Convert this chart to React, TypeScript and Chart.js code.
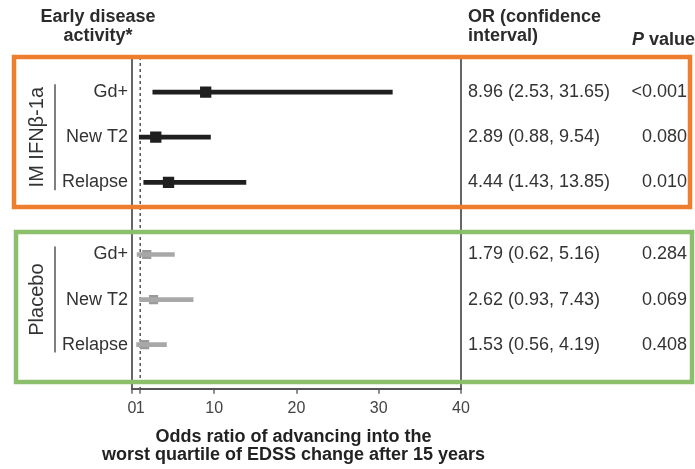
import React, { useEffect, useRef } from 'react';
import { Chart, registerables } from 'chart.js';

Chart.register(...registerables);

// ---- data ----
const groups = ['IM IFNβ-1a', 'Placebo'];
const categories = ['Gd+', 'New T2', 'Relapse'];
const imOR = [8.96, 2.89, 4.44];
const imLow = [2.53, 0.88, 1.43];
const imHigh = [31.65, 9.54, 13.85];
const imP = ['<0.001', '0.080', '0.010'];
const plOR = [1.79, 2.62, 1.53];
const plLow = [0.62, 0.93, 0.56];
const plHigh = [5.16, 7.43, 4.19];
const plP = ['0.284', '0.069', '0.408'];
const xTicks = [0, 1, 10, 20, 30, 40];
const axisTitle = ['Odds ratio of advancing into the', 'worst quartile of EDSS change after 15 years'];
const headerLeft = ['Early disease', 'activity*'];
const headerOR = ['OR (confidence', 'interval)'];

// ---- layout (row slots on the y scale) ----
const imRows = [0, 1, 2];
const plRows = [3.6, 4.6, 5.6];

const FONT = '"Liberation Sans", Arial, Helvetica, sans-serif';
const fmt = (o: number, l: number, h: number) => `${o.toFixed(2)} (${l.toFixed(2)}, ${h.toFixed(2)})`;

const decor = {
  id: 'forestDecor',
  beforeDatasetsDraw(chart: any) {
    const { ctx, chartArea, scales } = chart;
    const x = scales.x;
    ctx.save();
    ctx.strokeStyle = '#555';
    ctx.lineWidth = 1.5;
    ctx.setLineDash([3, 3]);
    const px = x.getPixelForValue(1);
    ctx.beginPath();
    ctx.moveTo(px, chartArea.top);
    ctx.lineTo(px, chartArea.bottom);
    ctx.stroke();
    ctx.restore();
  },
  afterDraw(chart: any) {
    const { ctx, scales, chartArea } = chart;
    const y = scales.y;
    ctx.save();
    ctx.fillStyle = '#2b2b2b';
    ctx.textBaseline = 'middle';
    // headers
    ctx.font = `bold 18px ${FONT}`;
    ctx.textAlign = 'center';
    headerLeft.forEach((t, i) => ctx.fillText(t, 98, 17 + i * 19));
    ctx.textAlign = 'left';
    headerOR.forEach((t, i) => ctx.fillText(t, 468, 17 + i * 19));
    ctx.font = `italic bold 18px ${FONT}`;
    ctx.fillText('P', 632, 40);
    const pw = ctx.measureText('P').width;
    ctx.font = `bold 18px ${FONT}`;
    ctx.fillText(' value', 632 + pw, 40);

    // x-axis title (wider than the axis, drawn centred under it)
    const cx = (chartArea.left + chartArea.right) / 2 - 3;
    ctx.textAlign = 'center';
    ctx.fillStyle = '#222';
    axisTitle.forEach((t, i) => ctx.fillText(t, cx, 437 + i * 18.5));

    // rows
    const drawGroup = (rows: number[], or: number[], lo: number[], hi: number[], p: string[], name: string) => {
      ctx.fillStyle = '#333';
      ctx.font = `18px ${FONT}`;
      rows.forEach((r, i) => {
        const py = y.getPixelForValue(r);
        ctx.textAlign = 'right';
        ctx.fillText(categories[i], 128, py);
        ctx.textAlign = 'left';
        ctx.fillText(fmt(or[i], lo[i], hi[i]), 468, py);
        ctx.textAlign = 'right';
        ctx.fillText(p[i], 687, py);
      });
      const c = (y.getPixelForValue(rows[0]) + y.getPixelForValue(rows[rows.length - 1])) / 2;
      ctx.strokeStyle = '#555';
      ctx.lineWidth = 1.5;
      ctx.beginPath();
      ctx.moveTo(55, c - 53);
      ctx.lineTo(55, c + 53);
      ctx.stroke();
      ctx.save();
      ctx.translate(37, c);
      ctx.rotate(-Math.PI / 2);
      ctx.textAlign = 'center';
      ctx.font = `20px ${FONT}`;
      ctx.fillText(name, 0, 0);
      ctx.restore();
    };
    drawGroup(imRows, imOR, imLow, imHigh, imP, groups[0]);
    drawGroup(plRows, plOR, plLow, plHigh, plP, groups[1]);

    // highlight boxes
    ctx.lineWidth = 4.5;
    ctx.strokeStyle = '#EE7D2E';
    ctx.strokeRect(14, 57, 676, 150);
    ctx.strokeStyle = '#8CBF6B';
    ctx.strokeRect(16, 232, 676, 150);
    ctx.restore();
  },
};

export default function App() {
  const ref = useRef<HTMLCanvasElement | null>(null);
  useEffect(() => {
    document.body.style.margin = '0';
    if (!ref.current) return;
    const chart = new Chart(ref.current, {
      type: 'bar',
      data: {
        datasets: [
          {
            type: 'bar',
            indexAxis: 'y',
            grouped: false,
            data: imRows.map((r, i) => ({ x: [imLow[i], imHigh[i]], y: r })),
            backgroundColor: '#1f1f1f',
            barThickness: 4,
            borderWidth: 0,
            borderSkipped: false,
          } as any,
          {
            type: 'bar',
            indexAxis: 'y',
            grouped: false,
            data: plRows.map((r, i) => ({ x: [plLow[i], plHigh[i]], y: r })),
            backgroundColor: '#a8a8a8',
            barThickness: 4,
            borderWidth: 0,
            borderSkipped: false,
          } as any,
          {
            type: 'scatter',
            data: imRows.map((r, i) => ({ x: imOR[i], y: r })),
            pointStyle: 'rect',
            pointRadius: 8,
            backgroundColor: '#1f1f1f',
            borderWidth: 0,
          } as any,
          {
            type: 'scatter',
            data: plRows.map((r, i) => ({ x: plOR[i], y: r })),
            pointStyle: 'rect',
            pointRadius: 6.5,
            backgroundColor: '#9a9a9a',
            borderWidth: 0,
          } as any,
        ],
      },
      options: {
        animation: false,
        responsive: false,
        events: [],
        layout: { padding: { left: 132, right: 234, top: 57, bottom: 46 } },
        plugins: { legend: { display: false }, tooltip: { enabled: false } },
        scales: {
          x: {
            type: 'linear',
            min: 0,
            max: 40,
            offset: false,
            afterBuildTicks: (s: any) => {
              s.ticks = xTicks.map((v) => ({ value: v }));
            },
            ticks: {
              autoSkip: false,
              maxRotation: 0,
              padding: 5,
              color: '#444',
              font: { family: FONT, size: 16, lineHeight: 1.2 },
              callback: (v: any) => String(v),
            },
            grid: {
              offset: false,
              drawOnChartArea: true,
              color: (c: any) => (c.tick && (c.tick.value === 0 || c.tick.value === 40) ? '#666' : 'rgba(0,0,0,0)'),
              lineWidth: 2,
              tickLength: 5,
              tickColor: '#666',
              tickWidth: 1.5,
            },
            border: { display: true, color: '#555', width: 2 },
            title: { display: false },
          },
          y: {
            type: 'linear',
            reverse: true,
            offset: false,
            min: -0.778,
            max: 6.578,
            display: false,
          },
        },
      } as any,
      plugins: [decor],
    });
    return () => chart.destroy();
  }, []);
  return <canvas ref={ref} width={695} height={469} style={{ position: 'absolute', left: 0, top: 0 }} />;
}
